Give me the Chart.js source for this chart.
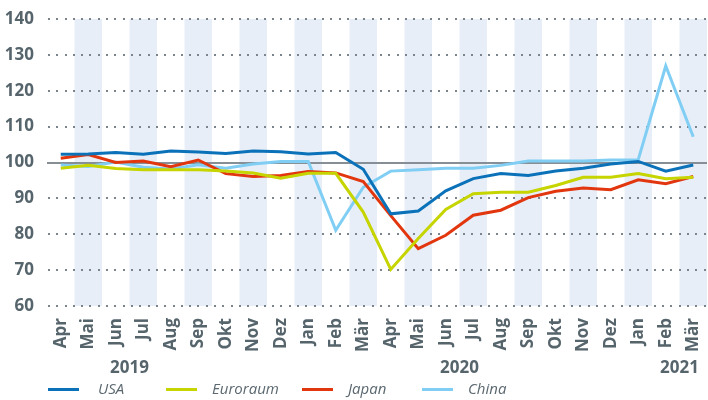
<!DOCTYPE html>
<html lang="de">
<head>
<meta charset="utf-8">
<script src="https://cdn.jsdelivr.net/npm/chart.js@4.4.0/dist/chart.umd.min.js"></script>
<style>
  html, body { margin: 0; padding: 0; background: #fff; }
  #wrap { position: relative; width: 708px; height: 400px; }
  #legend { position: absolute; left: 0; top: 378px; width: 708px; height: 22px;
            font-family: "Open Sans", sans-serif; font-style: italic; font-size: 15px; color: #5b6870; }
  .swatch { position: absolute; top: 10px; width: 31px; height: 3px; }
  .txt { position: absolute; top: 0; }
</style>
</head>
<body>
<div id="wrap">
  <canvas id="chart" width="708" height="400"></canvas>
  <div id="legend"></div>
</div>
<script>
const months = ['Apr','Mai','Jun','Jul','Aug','Sep','Okt','Nov','Dez','Jan','Feb','Mär',
                'Apr','Mai','Jun','Jul','Aug','Sep','Okt','Nov','Dez','Jan','Feb','Mär'];
const years = ['2019', '2020', '2021'];
const yearAt = [2.5, 14.5, 22.5];   // label centres, in category units

const usa      = [102.3,102.4,102.8,102.3,103.2,102.9,102.5,103.2,103.0,102.4,102.8,98.1,
                  85.7,86.5,92.1,95.5,96.9,96.4,97.6,98.4,99.6,100.3,97.6,99.3];
const euroraum = [98.4,99.2,98.3,98.0,98.0,98.0,97.6,97.1,95.6,97.0,97.0,86.2,
                  70.2,78.8,86.9,91.3,91.7,91.7,93.6,95.9,95.9,96.9,95.5,95.9];
const japan    = [101.2,102.2,100.0,100.4,98.8,100.7,96.9,96.1,96.4,97.5,97.1,94.7,
                  85.2,76.0,79.7,85.3,86.7,90.2,92.0,92.9,92.4,95.2,94.1,96.1];
const china    = [99.3,98.9,100.1,98.7,98.2,99.4,98.4,99.6,100.3,100.3,81.1,93.1,
                  97.6,98.0,98.4,98.4,99.2,100.4,100.4,100.4,100.7,100.8,126.9,107.2];
const yTicks = [60, 70, 80, 90, 100, 110, 120, 130, 140];

const seriesNames = ['USA', 'Euroraum', 'Japan', 'China'];
const colors = ['#0b72b9', '#c6d400', '#e2360f', '#80cef4'];
const legendX = [48, 166, 302, 422];

const tickColor = '#56646c';
const fontFam = '"Open Sans", "Noto Sans", sans-serif';

// month bands, dotted grid, 100 line, year labels
const bandsPlugin = {
  id: 'bands',
  beforeDraw(chart) {
    const { ctx, chartArea, scales: { x } } = chart;
    const w = x.getPixelForValue(1) - x.getPixelForValue(0);
    ctx.save();
    ctx.fillStyle = '#e7eef8';
    months.forEach((m, i) => {
      if (i % 2 === 1) {
        const c = x.getPixelForValue(i);
        ctx.fillRect(c - w / 2, chartArea.top, w, chartArea.bottom - chartArea.top);
      }
    });
    ctx.restore();
  },
  beforeDatasetsDraw(chart) {
    const { ctx, chartArea, scales: { y } } = chart;
    ctx.save();
    ctx.fillStyle = '#7b848a';
    yTicks.forEach(v => {
      if (v === 100) return;
      const py = Math.round(y.getPixelForValue(v));
      for (let px = chartArea.left + 1; px < chartArea.right; px += 8.3) {
        ctx.fillRect(Math.round(px), py - 1, 2, 2);
      }
    });
    const p100 = Math.round(y.getPixelForValue(100));
    ctx.fillStyle = '#868f95';
    ctx.fillRect(chartArea.left, p100 - 1, chartArea.right - chartArea.left, 2);
    ctx.restore();
  },
  afterDraw(chart) {
    const { ctx, scales: { x } } = chart;
    const w = x.getPixelForValue(1) - x.getPixelForValue(0);
    ctx.save();
    ctx.fillStyle = tickColor;
    ctx.font = 'bold 17px ' + fontFam;
    ctx.textAlign = 'center';
    ctx.textBaseline = 'middle';
    years.forEach((yr, i) => {
      const px = x.getPixelForValue(0) + yearAt[i] * w;
      ctx.fillText(yr, px, 368);
    });
    ctx.restore();
  }
};

new Chart(document.getElementById('chart'), {
  type: 'line',
  data: {
    labels: months,
    datasets: [usa, euroraum, japan, china].map((d, i) => ({
      label: seriesNames[i],
      data: d,
      borderColor: colors[i],
      borderWidth: 3,
      pointRadius: 0,
      tension: 0,
      fill: false
    }))
  },
  options: {
    responsive: false,
    animation: false,
    layout: { padding: { top: 19, right: 1, left: 0, bottom: 0 } },
    plugins: { legend: { display: false }, tooltip: { enabled: false } },
    scales: {
      x: {
        offset: true,
        grid: { display: false },
        border: { display: false },
        ticks: {
          color: tickColor,
          font: { family: fontFam, size: 17, weight: 'bold' },
          minRotation: 90, maxRotation: 90,
          padding: 4,
          autoSkip: false
        },
        afterFit(s) { s.height = 94; s.paddingLeft = 0; s.paddingRight = 0; }
      },
      y: {
        min: 60, max: 140,
        afterBuildTicks(s) { s.ticks = yTicks.map(v => ({ value: v })); },
        grid: { display: false },
        border: { display: false },
        ticks: {
          color: tickColor,
          font: { family: fontFam, size: 17, weight: 'bold' },
          padding: 5
        },
        afterFit(s) { s.width = 47; s.paddingTop = 0; s.paddingBottom = 0; }
      }
    }
  },
  plugins: [bandsPlugin]
});

const legend = document.getElementById('legend');
seriesNames.forEach((n, i) => {
  const sw = document.createElement('div');
  sw.className = 'swatch';
  sw.style.left = legendX[i] + 'px';
  sw.style.background = colors[i];
  const t = document.createElement('div');
  t.className = 'txt';
  t.style.left = (legendX[i] + (i === 0 ? 50 : 46)) + 'px';
  t.textContent = n;
  legend.appendChild(sw);
  legend.appendChild(t);
});
</script>
</body>
</html>
